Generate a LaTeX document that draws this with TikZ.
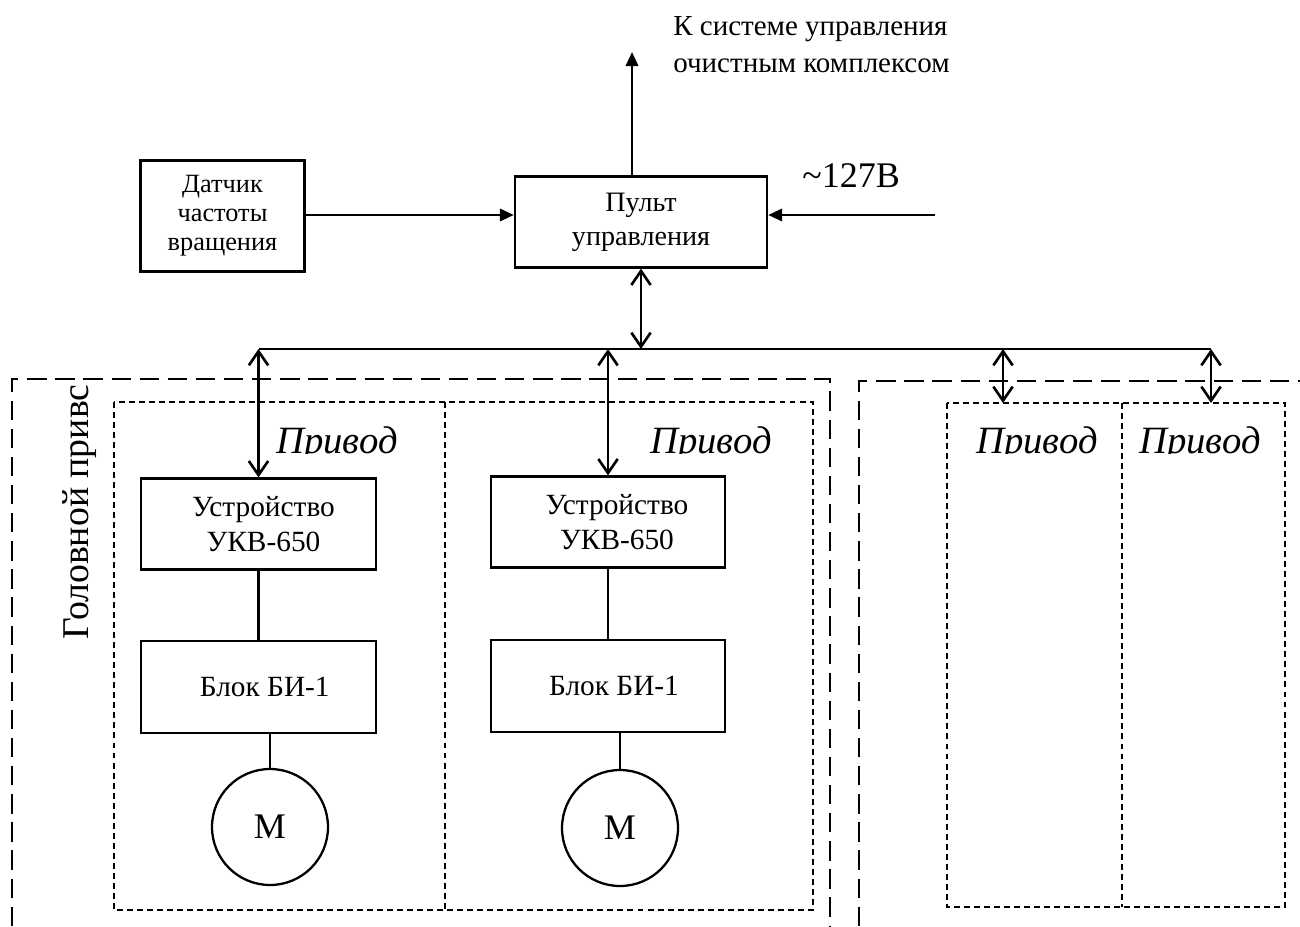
\documentclass[tikz,border=0pt]{standalone}
\usepackage{fontspec}
\setmainfont{Liberation Serif}
\usetikzlibrary{arrows.meta}

\begin{document}
\begin{tikzpicture}[x = 0.02 cm, y = -0.02 cm,
	block/.style = {draw, line width = 1.3 pt, align = center, inner sep = 0 pt, font = \fontsize{16.7}{19.8}\selectfont},
	motor/.style = {draw, circle, line width = 1.3 pt, minimum size = 2.32 cm, inner sep = 0 pt, font = \fontsize{20.5}{24}\selectfont},
	drive/.style = {anchor = base, inner sep = 0 pt, font = \fontsize{22}{26}\selectfont\itshape},
	signal/.style = {line width = 1.5 pt, -{Triangle[length=8pt, width=7pt]}},
	link/.style = {line width = 1.5 pt, {Straight Barb[length=8pt, width=11pt]}-{Straight Barb[length=8pt, width=11pt]}},
	wire/.style = {line width = 1.2 pt},
	group/.style = {line width = 1.2 pt, dash pattern = on 11pt off 5pt},
	unit/.style = {line width = 0.9 pt, dash pattern = on 3.4pt off 2.3pt}]

	\useasboundingbox (0, 0) rectangle (1300, 926);

	% Groups
	
	\draw [group] (12, 926) -- (12, 379) -- (830, 379) -- (830, 926);
	\draw [group] (859, 926) -- (859, 381) -- (1300, 381);
	
	\draw [unit] (114, 402) rectangle (813, 910);
	\draw [unit] (445, 402) -- (445, 910);
	\draw [unit] (947, 403) rectangle (1285, 907);
	\draw [unit] (1122, 403) -- (1122, 907);

	% Blocks
	
	\node [block, font = \fontsize{15}{16.5}\selectfont, minimum width = 3.28 cm, minimum height = 2.22 cm] (sensor) at (222.5, 216) {Датчик\\частоты\\вращения};
	\node [block, font = \fontsize{16}{19.5}\selectfont, minimum width = 5.04 cm, minimum height = 1.82 cm] (panel) at (641, 222) {Пульт\\управления};
	
	\node [block, minimum width = 4.7 cm, minimum height = 1.82 cm] (dev1) at (258.5, 524) {\hspace{0.2 cm}Устройство\\\hspace{0.2 cm}УКВ-650};
	\node [block, minimum width = 4.7 cm, minimum height = 1.84 cm] (blk1) at (258.5, 687) {\hspace{0.25 cm}Блок БИ-1};
	\node [motor] (mot1) at (270, 827) {М};
	
	\node [block, minimum width = 4.68 cm, minimum height = 1.82 cm] (dev2) at (608, 522) {\hspace{0.36 cm}Устройство\\\hspace{0.36 cm}УКВ-650};
	\node [block, minimum width = 4.68 cm, minimum height = 1.84 cm] (blk2) at (608, 686) {\hspace{0.24 cm}Блок БИ-1};
	\node [motor] (mot2) at (620, 828) {М};

	% Labels
	
	\node [anchor = north west, inner sep = 0 pt, align = left, font = \fontsize{16.5}{21}\selectfont] (sys) at (673, 16) {К системе управления\\очистным комплексом};
	\node [anchor = base west, inner sep = 0 pt, font = \fontsize{20.5}{24}\selectfont] (volt) at (802, 187) {\textasciitilde127В};
	\node [rotate = 90, anchor = base, inner sep = 0 pt, font = \fontsize{21.5}{25}\selectfont] (head) at (88, 512) {Головной привс};
	
	\begin{scope}
		\clip (0, 0) rectangle (1300, 453.5);
		\foreach \x / \n in {337 / 1, 711 / 2, 1037 / 3, 1200 / 4}
			\node [drive] (drv\n) at (\x, 453) {Привод};
	\end{scope}

	% Connectors
	
	\coordinate (out) at (632, 52);
	\coordinate (feed) at (935, 215);
	\coordinate (busL) at (259, 349);
	\coordinate (busR) at (1211, 349);
	\coordinate (top3) at (1003, 403);
	\coordinate (top4) at (1211, 403);
	
	\draw [signal] (sensor.east |- feed) -- (panel.west |- feed);
	\draw [signal] (panel.north -| out) -- (out);
	\draw [signal] (feed) -- (panel.east |- feed);
	
	\draw [wire] (busL) -- (busR);
	\draw [link] (panel.south) -- (panel.south |- busL);
	\draw [link] (dev1.north |- busL) -- (dev1.north);
	\draw [link] (dev2.north |- busL) -- (dev2.north);
	\draw [link] (top3 |- busL) -- (top3);
	\draw [link] (busR) -- (top4);
	
	\draw [wire] (dev1) -- (blk1);
	\draw [wire] (blk1.south -| mot1) -- (mot1);
	\draw [wire] (dev2) -- (blk2);
	\draw [wire] (blk2.south -| mot2) -- (mot2);

\end{tikzpicture}
\end{document}
